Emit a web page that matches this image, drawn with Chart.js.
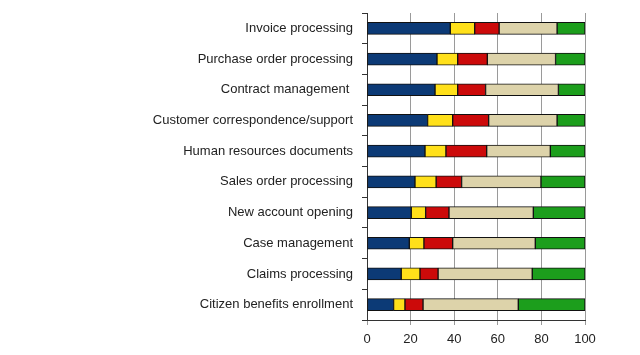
<!DOCTYPE html>
<html>
<head>
<meta charset="utf-8">
<script src="https://cdn.jsdelivr.net/npm/chart.js@4"></script>
<style>
  html, body { margin: 0; padding: 0; background: #ffffff; }
  #wrap { width: 640px; height: 355px; position: relative; }
</style>
</head>
<body>
<div id="wrap"><canvas id="c" width="640" height="355"></canvas></div>
<script>
const categories = [
  "Invoice processing",
  "Purchase order processing",
  "Contract management ",
  "Customer correspondence/support",
  "Human resources documents",
  "Sales order processing",
  "New account opening",
  "Case management",
  "Claims processing",
  "Citizen benefits enrollment"
];
const seriesBlue   = [38.2, 32.1, 31.2, 27.8, 26.6, 22.0, 20.3, 19.4, 15.7, 12.2];
const seriesYellow = [11.2,  9.5, 10.4, 11.5,  9.6,  9.7,  6.6,  6.7,  8.6,  5.2];
const seriesRed    = [11.2, 13.6, 12.8, 16.5, 18.7, 11.7, 10.7, 13.2,  8.3,  8.3];
const seriesBeige  = [26.6, 31.3, 33.4, 31.4, 29.2, 36.4, 38.7, 37.9, 43.2, 43.7];
const seriesGreen  = [12.8, 13.5, 12.2, 12.8, 15.9, 20.2, 23.7, 22.8, 24.2, 30.6];
const xTicks = [0, 20, 40, 60, 80, 100];

const colors = ["#0c3a76", "#ffe01a", "#cc0a0a", "#ddd3aa", "#1c9e1c"];
const seriesList = [seriesBlue, seriesYellow, seriesRed, seriesBeige, seriesGreen];
const names = ["Series 1", "Series 2", "Series 3", "Series 4", "Series 5"];

const datasets = seriesList.map((d, i) => ({
  label: names[i],
  data: d,
  backgroundColor: colors[i],
  borderColor: "#111111",
  borderWidth: 1,
  borderSkipped: false,
  barThickness: 12
}));

new Chart(document.getElementById("c"), {
  type: "bar",
  data: { labels: categories, datasets: datasets },
  options: {
    indexAxis: "y",
    responsive: false,
    animation: false,
    layout: { padding: { top: 13, right: 55, bottom: 0, left: 0 } },
    plugins: { legend: { display: false }, tooltip: { enabled: false } },
    scales: {
      x: {
        stacked: true,
        min: 0,
        max: 100,
        afterBuildTicks: (s) => { s.ticks = xTicks.map(v => ({ value: v })); },
        afterFit: (s) => { s.height = 35; s.paddingLeft = 0; s.paddingRight = 0; },
        grid: { color: "#9a9a9a", lineWidth: 1, tickLength: 5 },
        border: { color: "#333333", width: 1 },
        ticks: { color: "#222222", padding: 7, font: { family: "Liberation Sans, Arial", size: 13 } }
      },
      y: {
        stacked: true,
        afterFit: (s) => { s.width = 367; s.paddingTop = 0; s.paddingBottom = 0; },
        grid: { display: true, drawOnChartArea: false, tickLength: 5, color: "#333333", offset: true },
        border: { color: "#333333", width: 1 },
        ticks: { color: "#222222", padding: 9, autoSkip: false, font: { family: "Liberation Sans, Arial", size: 13 } }
      }
    }
  }
});
</script>
</body>
</html>
